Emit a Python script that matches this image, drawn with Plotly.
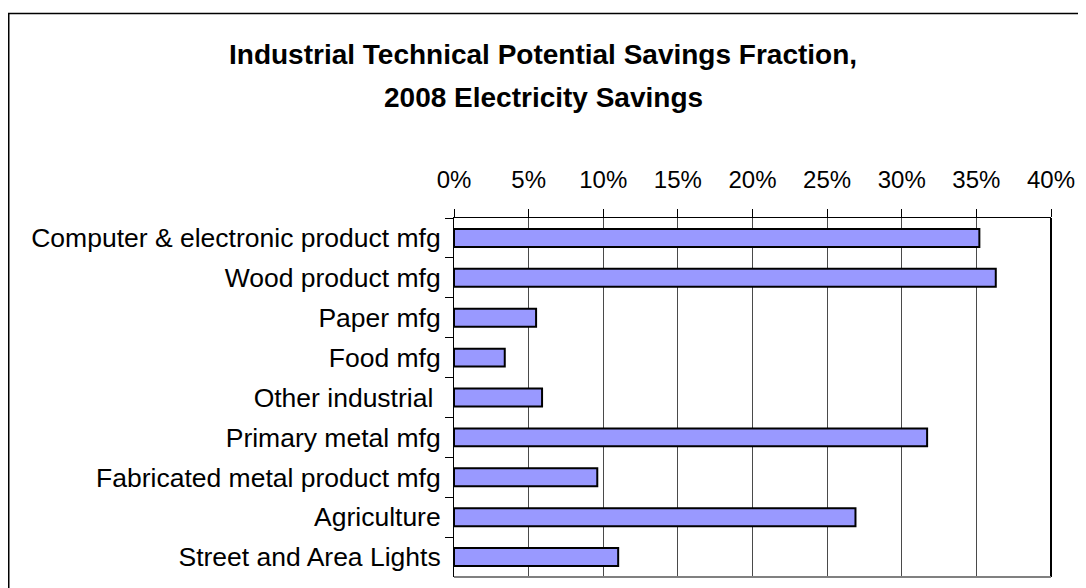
import plotly.graph_objects as go

categories = [
    "Computer & electronic product mfg",
    "Wood product mfg",
    "Paper mfg",
    "Food mfg",
    "Other industrial ",
    "Primary metal mfg",
    "Fabricated metal product mfg",
    "Agriculture",
    "Street and Area Lights",
]
savings_fraction = [0.352, 0.363, 0.055, 0.034, 0.059, 0.317, 0.096, 0.269, 0.110]
tick_values = [0, 0.05, 0.10, 0.15, 0.20, 0.25, 0.30, 0.35, 0.40]
tick_labels = ["0%", "5%", "10%", "15%", "20%", "25%", "30%", "35%", "40%"]
title_lines = ["Industrial Technical Potential Savings Fraction,", "2008 Electricity Savings"]

# page body has an 8px default margin; compensate so the figure lands where the reference is
OFF = 8
W, H = 1086 - OFF, 588 - OFF
ml, mr, mt, mb = 454 - OFF, 35, 218 - OFF, 11

fig = go.Figure(go.Bar(
    x=savings_fraction, y=categories, orientation="h",
    marker=dict(color="#9999FF", line=dict(color="black", width=2)),
    width=0.45,
))

font_family = "Liberation Sans, Arial, sans-serif"
fig.update_layout(
    width=W, height=H,
    margin=dict(l=ml, r=mr, t=mt, b=mb, pad=0),
    paper_bgcolor="white", plot_bgcolor="white",
    showlegend=False,
    font=dict(family=font_family, size=24, color="black"),
    bargap=0.55,
)
fig.update_xaxes(
    side="top", range=[0, 0.40], tickvals=tick_values, ticktext=tick_labels,
    showgrid=True, gridcolor="#4a4a4a", gridwidth=1,
    showline=True, linecolor="black", linewidth=1,
    ticks="outside", ticklen=8, tickcolor="black", tickwidth=1,
    zeroline=False, tickfont=dict(size=24), ticklabelstandoff=11, fixedrange=True,
)
fig.update_yaxes(
    categoryorder="array", categoryarray=categories, autorange="reversed",
    showline=True, linecolor="black", linewidth=1,
    ticks="outside", ticklen=8, tickcolor="black", tickwidth=1,
    tickson="boundaries", showgrid=False,
    tickfont=dict(size=26.5), ticklabelstandoff=7, fixedrange=True,
)

# plot area right (black) and bottom (gray) borders
fig.add_shape(type="line", xref="x domain", yref="y domain", x0=1, x1=1, y0=0, y1=1,
              line=dict(color="black", width=2))
fig.add_shape(type="line", xref="x domain", yref="y domain", x0=0, x1=1, y0=0, y1=0,
              line=dict(color="#808080", width=2))

# outer chart border (left and top visible); coordinates given in page pixels
pw = W - ml - mr
ph = H - mt - mb
def px_to_paper_x(px):
    return (px - OFF - ml) / pw
def px_to_paper_y(py):
    return (H - mb - (py - OFF)) / ph
fig.add_shape(type="rect", xref="paper", yref="paper",
              x0=px_to_paper_x(8.75), x1=px_to_paper_x(1100),
              y0=px_to_paper_y(600), y1=px_to_paper_y(13.5),
              line=dict(color="black", width=1.5), fillcolor="rgba(0,0,0,0)", layer="below")

for line, ypx in zip(title_lines, [54, 97]):
    fig.add_annotation(
        text="<b>%s</b>" % line, xref="paper", yref="paper",
        x=px_to_paper_x(543), y=px_to_paper_y(ypx),
        xanchor="center", yanchor="middle", showarrow=False,
        font=dict(family=font_family, size=28, color="black"),
    )

fig.write_html("out.html")
